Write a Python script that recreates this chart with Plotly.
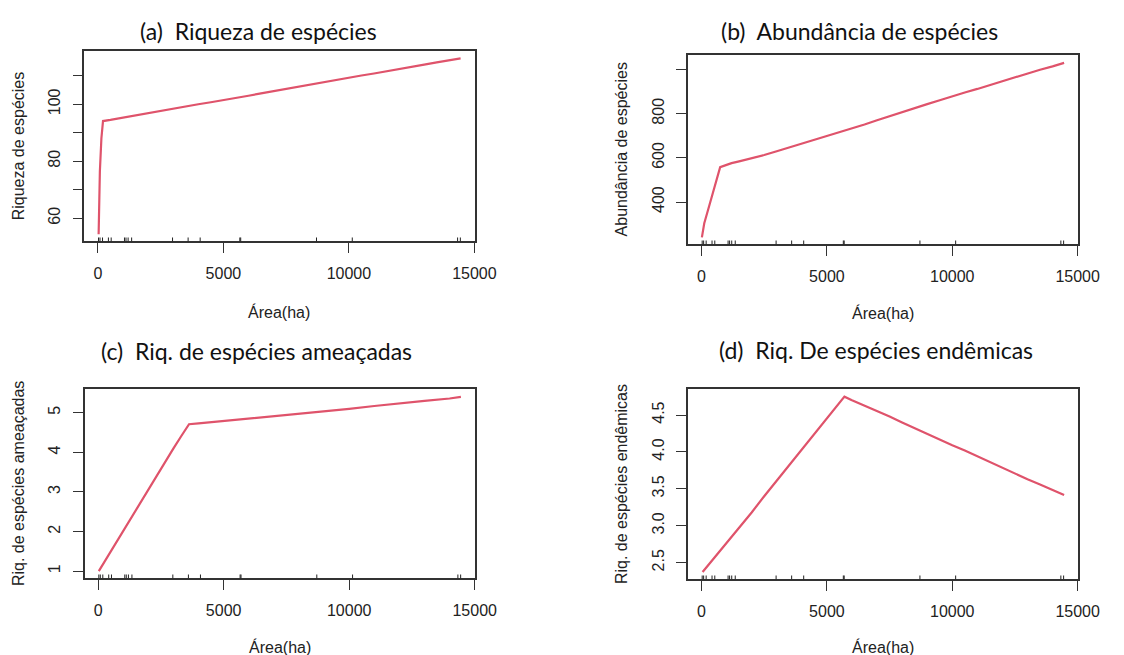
import plotly.graph_objects as go

# ---- partial-dependence curves against area (ha) ----
area_a = [30, 40, 80, 140, 205, 500, 1000, 1500, 2000, 2600, 3000, 3500, 4000, 4500,
          5000, 5500, 6000, 6500, 7000, 7500, 7800, 8500, 9000, 9500, 10000, 10500,
          11000, 11700, 12000, 12500, 13000, 13500, 14000, 14450]
riqueza = [54.4, 65.3, 76.5, 88.0, 94.1, 94.5, 95.3, 96.2, 97.0, 98.0, 98.6, 99.3, 100.0, 100.7,
           101.4, 102.2, 103.0, 103.8, 104.6, 105.4, 106.0, 107.0, 107.8, 108.6, 109.4, 110.1,
           110.8, 111.8, 112.3, 113.1, 113.9, 114.7, 115.5, 116.1]

area_b = [15, 110, 300, 500, 744, 1000, 1200, 1500, 2000, 2500, 3000, 3500, 4000, 4500,
          5000, 5500, 6000, 6500, 7000, 7500, 8000, 8500, 9000, 9500, 10000, 10500, 11000,
          11500, 12000, 12500, 13000, 13500, 14000, 14460]
abundancia = [240, 304, 380, 460, 558, 568, 576, 584, 597, 613, 630, 647, 666, 683,
              700, 716, 733, 751, 770, 789, 808, 826, 843, 861, 880, 896, 912,
              930, 948, 965, 983, 999, 1014, 1030]

area_c = [25, 500, 1000, 1500, 2000, 2500, 3000, 3300, 3620, 4000, 5000, 6000, 6500, 7000,
          8000, 9000, 10000, 11000, 12000, 13000, 14000, 14450]
ameacadas = [1.0, 1.50, 2.02, 2.55, 3.07, 3.58, 4.10, 4.40, 4.71, 4.73, 4.79, 4.85, 4.88, 4.91,
             4.98, 5.04, 5.10, 5.17, 5.24, 5.30, 5.36, 5.40]

area_d = [43, 500, 1000, 1500, 2000, 2500, 3000, 3500, 4000, 4500, 5000, 5500, 5700, 6000,
          6500, 7000, 7500, 8000, 8500, 9000, 9500, 10000, 10500, 11000, 11500, 12000,
          12500, 13000, 13500, 14000, 14460]
endemicas = [2.374, 2.56, 2.76, 2.97, 3.18, 3.40, 3.61, 3.82, 4.03, 4.24, 4.45, 4.66, 4.748, 4.70,
             4.63, 4.55, 4.48, 4.40, 4.32, 4.25, 4.17, 4.09, 4.02, 3.94, 3.86, 3.79,
             3.71, 3.63, 3.56, 3.48, 3.417]

# observed areas shown as a rug along the x axis
rug_area = [27, 85, 185, 420, 530, 1060, 1120, 1205, 1345, 2975, 3595, 4075,
            5655, 5690, 8710, 10135, 14330, 14440]

x_ticks = [0, 5000, 10000, 15000]
y_ticks_a = [60, 70, 80, 90, 100, 110]
y_text_a = ["60", "", "80", "", "100", ""]
y_ticks_b = [400, 600, 800, 1000]
y_text_b = ["400", "600", "800", ""]
y_ticks_c = [1, 2, 3, 4, 5]
y_text_c = ["1", "2", "3", "4", "5"]
y_ticks_d = [2.5, 3.0, 3.5, 4.0, 4.5]
y_text_d = ["2.5", "3.0", "3.5", "4.0", "4.5"]

panel_titles = ["(a)  Riqueza de espécies", "(b)  Abundância de espécies",
                "(c)  Riq. de espécies ameaçadas", "(d)  Riq. De espécies endêmicas"]
y_titles = ["Riqueza de espécies", "Abundância de espécies",
            "Riq. de espécies ameaçadas", "Riq. de espécies endêmicas"]
x_title = "Área(ha)"

W, H = 1124, 655
LINE = "#DF536B"
AX = "#333333"
TICKFONT = dict(family="Liberation Sans, Arial, sans-serif", size=16, color="#222222")

# panel boxes in pixels: left, right, top, bottom
boxes = [(86, 484, 51, 241.3), (701.7, 1099.3, 55, 244.3),
         (86.3, 484.3, 389, 578.3), (701.7, 1099.3, 389.3, 579.3)]
xs = [area_a, area_b, area_c, area_d]
ys = [riqueza, abundancia, ameacadas, endemicas]
y_ranges = [[51.9, 118.7], [208.6, 1065.6], [0.82, 5.60], [2.275, 4.848]]
y_tickvals = [y_ticks_a, y_ticks_b, y_ticks_c, y_ticks_d]
y_ticktext = [y_text_a, y_text_b, y_text_c, y_text_d]
title_pos = [(263.5, 30.7), (876.7, 31), (261.7, 350.7), (893.7, 350.3)]
xlab_y = [311.7, 313.3, 646.7, 646.7]

fig = go.Figure()
layout = dict(width=W, height=H, margin=dict(l=0, r=0, t=0, b=0),
              paper_bgcolor="white", plot_bgcolor="white", showlegend=False)
annotations = []
shapes = []

for i in range(4):
    n = "" if i == 0 else str(i + 1)
    l, r, t, b = boxes[i]
    fig.add_trace(go.Scatter(x=xs[i], y=ys[i], mode="lines",
                             line=dict(color=LINE, width=2.2),
                             xaxis="x" + n, yaxis="y" + n, hoverinfo="skip"))
    layout["xaxis" + n] = dict(
        domain=[l / W, r / W], range=[-540, 15005], anchor="y" + n,
        tickvals=x_ticks, ticktext=[str(v) for v in x_ticks],
        ticks="outside", ticklen=10, tickwidth=1.2, tickcolor=AX,
        showline=True, linecolor=AX, linewidth=1.5, mirror=True,
        showgrid=False, zeroline=False, tickfont=TICKFONT, ticklabelstandoff=7)
    layout["yaxis" + n] = dict(
        domain=[1 - b / H, 1 - t / H], range=y_ranges[i], anchor="x" + n,
        tickvals=y_tickvals[i], ticktext=y_ticktext[i], tickangle=-90,
        ticks="outside", ticklen=10, tickwidth=1.2, tickcolor=AX,
        showline=True, linecolor=AX, linewidth=1.5, mirror=True,
        showgrid=False, zeroline=False, tickfont=TICKFONT, ticklabelstandoff=6)
    for v in rug_area:
        shapes.append(dict(type="line", xref="x" + n, yref="y" + n + " domain",
                           x0=v, x1=v, y0=0, y1=0.02,
                           line=dict(color="#222222", width=1)))
    # panel title
    cx, cy = title_pos[i]
    annotations.append(dict(text=panel_titles[i], x=cx / W, y=1 - cy / H,
                            xref="paper", yref="paper", showarrow=False,
                            xanchor="center", yanchor="middle",
                            font=dict(family="Lato, Open Sans, sans-serif", size=23,
                                      color="#111111")))
    # axis titles
    annotations.append(dict(text=x_title, x=(l + r) / 2 / W, y=1 - xlab_y[i] / H,
                            xref="paper", yref="paper", showarrow=False,
                            xanchor="center", yanchor="middle",
                            font=dict(family="Liberation Sans, Arial, sans-serif",
                                      size=16, color="#222222")))
    annotations.append(dict(text=y_titles[i], x=(l - 67.5) / W, y=1 - (t + b) / 2 / H,
                            xref="paper", yref="paper", showarrow=False, textangle=-90,
                            xanchor="center", yanchor="middle",
                            font=dict(family="Liberation Sans, Arial, sans-serif",
                                      size=16, color="#222222")))

layout["annotations"] = annotations
layout["shapes"] = shapes
fig.update_layout(**layout)
fig.write_html("out.html")
